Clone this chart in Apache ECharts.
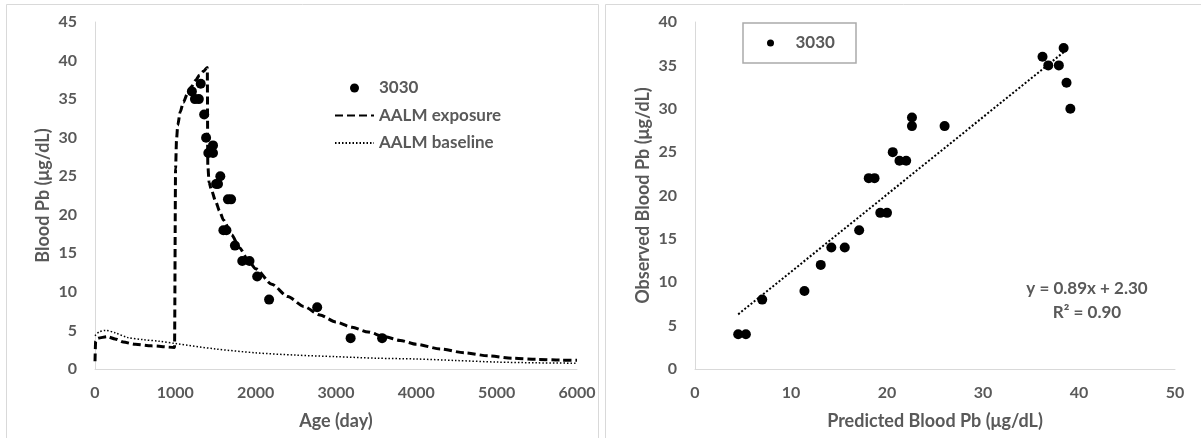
<!DOCTYPE html>
<html>
<head>
<meta charset="utf-8">
<script src="https://cdn.jsdelivr.net/npm/echarts@6/dist/echarts.min.js"></script>
<style>
html,body{margin:0;padding:0;background:#fff;}
#chart{width:1201px;height:438px;}
</style>
</head>
<body>
<div id="chart"></div>
<script>
// ---- Left chart: blood Pb vs age ----
const obsDays = [1206, 1244, 1292, 1316, 1359, 1383, 1411, 1469, 1469, 1507, 1531, 1560,
                 1598, 1636, 1655, 1694, 1742, 1833, 1923, 2019, 2167, 2766, 3182, 3574];
const obsValues = [36, 35, 35, 37, 33, 30, 28, 29, 28, 24, 24, 25,
                   18, 18, 22, 22, 16, 14, 14, 12, 9, 8, 4, 4];

const expoDays = [0, 8, 40, 150, 250, 350, 500, 700, 990, 1003, 1015, 1030, 1060, 1100, 1150, 1200,
                  1250, 1300, 1350, 1398, 1404, 1420, 1450, 1500, 1550, 1600, 1700, 1800, 1900,
                  2000, 2200, 2400, 2600, 2800, 3000, 3200, 3400, 3600, 3800, 4000, 4300, 4600,
                  4900, 5200, 5500, 5800, 6000];
const expoValues = [1.0, 3.6, 4.0, 4.2, 3.9, 3.5, 3.2, 3.0, 2.8, 26.0, 29.8, 31.6, 33.3, 34.6, 35.7, 36.6,
                    37.4, 38.1, 38.6, 39.1, 26.5, 24.2, 23.2, 21.8, 20.5, 19.3, 17.4, 15.7, 14.2,
                    13.0, 11.0, 9.4, 8.1, 7.0, 6.1, 5.4, 4.8, 4.2, 3.7, 3.2, 2.6, 2.1,
                    1.7, 1.4, 1.25, 1.15, 1.15];

const baseDays = [0, 50, 130, 250, 400, 600, 800, 1000, 1500, 2000, 2500, 3000, 3500, 4000, 4500, 5000, 5500, 6000];
const baseValues = [4.3, 4.8, 5.0, 4.7, 4.1, 3.8, 3.6, 3.3, 2.6, 2.1, 1.8, 1.6, 1.4, 1.3, 1.1, 0.9, 0.8, 0.75];

// ---- Right chart: observed vs predicted ----
const predicted = [4.5, 5.3, 7.0, 11.4, 13.1, 14.2, 15.6, 17.1, 19.3, 20.0, 18.1, 18.7,
                   20.6, 21.3, 22.0, 22.6, 22.6, 26.0, 36.2, 36.8, 37.9, 38.4, 38.7, 39.1];
const observed = [4, 4, 8, 9, 12, 14, 14, 16, 18, 18, 22, 22,
                  25, 24, 24, 29, 28, 28, 36, 35, 35, 37, 33, 30];
const trendX = [4.5, 38.6];
const trendY = [6.3, 36.7];

const seriesName = '3030';
const expoName = 'AALM exposure';
const baseName = 'AALM baseline';
const equationText = 'y = 0.89x + 2.30';
const r2Text = 'R² = 0.90';
const leftXName = 'Age (day)';
const leftYName = 'Blood Pb (μg/dL)';
const rightXName = 'Predicted Blood Pb (μg/dL)';
const rightYName = 'Observed Blood Pb (μg/dL)';

const zip = (a, b) => a.map((v, i) => [v, b[i]]);

const FONT = 'Lato';
const TXT = '#595959';
const AX = '#d9d9d9';
const labelStyle = {color: TXT, fontFamily: FONT, fontWeight: 'bold', fontSize: 16};
const nameStyle = {color: TXT, fontFamily: FONT, fontWeight: 'bold', fontSize: 18};
const legendText = {color: TXT, fontFamily: FONT, fontWeight: 'bold', fontSize: 17, lineHeight: 18};

function xAx(grid, min, max, interval, name) {
  return {
    type: 'value', gridIndex: grid, min: min, max: max, interval: interval,
    name: name, nameLocation: 'middle', nameGap: 43, nameTextStyle: nameStyle,
    axisLine: {show: true, lineStyle: {color: AX, width: 1}},
    axisTick: {show: false}, splitLine: {show: false},
    axisLabel: Object.assign({margin: 16, formatter: v => String(v)}, labelStyle)
  };
}
function yAx(grid, min, max, interval, name) {
  return {
    type: 'value', gridIndex: grid, min: min, max: max, interval: interval,
    name: name, nameLocation: 'middle', nameGap: 43, nameTextStyle: nameStyle,
    axisLine: {show: true, lineStyle: {color: AX, width: 1}},
    axisTick: {show: false}, splitLine: {show: false},
    axisLabel: Object.assign({margin: 18, formatter: v => String(v)}, labelStyle)
  };
}

const hideSym = {color: 'rgba(0,0,0,0)', borderWidth: 0, opacity: 0};

const chart = echarts.init(document.getElementById('chart'), null, {renderer: 'canvas'});
chart.setOption({
  animation: false,
  backgroundColor: '#fff',
  grid: [
    {left: 95, top: 22, width: 482, height: 347},
    {left: 695, top: 22, width: 480, height: 347}
  ],
  xAxis: [xAx(0, 0, 6000, 1000, leftXName), xAx(1, 0, 50, 10, rightXName)],
  yAxis: [yAx(0, 0, 45, 5, leftYName), yAx(1, 0, 40, 5, rightYName)],
  legend: [
    {
      orient: 'vertical', left: 334, top: 79, padding: 0,
      itemWidth: 39, itemHeight: 9, itemGap: 9.5,
      selectedMode: false, textStyle: legendText,
      data: [
        {name: seriesName},
        {name: expoName, itemStyle: hideSym},
        {name: baseName, itemStyle: hideSym}
      ]
    },
    {
      orient: 'vertical', left: 767, top: 34, padding: 0,
      itemWidth: 40, itemHeight: 7,
      selectedMode: false, textStyle: legendText,
      data: [{name: seriesName}]
    }
  ],
  series: [
    {
      name: seriesName, type: 'scatter', xAxisIndex: 0, yAxisIndex: 0,
      symbol: 'circle', symbolSize: 10, itemStyle: {color: '#000', opacity: 1},
      data: zip(obsDays, obsValues), z: 5
    },
    {
      name: expoName, type: 'line', xAxisIndex: 0, yAxisIndex: 0,
      showSymbol: false, symbol: 'none', smooth: 0.25, smoothMonotone: 'x',
      lineStyle: {color: '#000', width: 3, type: [8, 4]}, itemStyle: {color: '#000'},
      data: zip(expoDays, expoValues)
    },
    {
      name: baseName, type: 'line', xAxisIndex: 0, yAxisIndex: 0,
      showSymbol: false, symbol: 'none', smooth: 0.3,
      lineStyle: {color: '#000', width: 1.5, type: [1.5, 2]}, itemStyle: {color: '#000'},
      data: zip(baseDays, baseValues)
    },
    {
      name: seriesName, type: 'scatter', xAxisIndex: 1, yAxisIndex: 1,
      symbol: 'circle', symbolSize: 10, itemStyle: {color: '#000', opacity: 1},
      data: zip(predicted, observed), z: 5
    },
    {
      name: 'trend', type: 'line', xAxisIndex: 1, yAxisIndex: 1,
      showSymbol: false, symbol: 'none', silent: true,
      lineStyle: {color: '#000', width: 2, type: [2, 2]},
      data: zip(trendX, trendY)
    }
  ],
  graphic: [
    {type: 'rect', shape: {x: 6.5, y: 4.5, width: 592, height: 450}, style: {fill: 'none', stroke: '#d9d9d9', lineWidth: 1}, z: -1, silent: true},
    {type: 'rect', shape: {x: 605.5, y: 4.5, width: 610, height: 450}, style: {fill: 'none', stroke: '#d9d9d9', lineWidth: 1}, z: -1, silent: true},
    {type: 'rect', shape: {x: 743, y: 23, width: 113, height: 40}, style: {fill: 'none', stroke: '#aaaaaa', lineWidth: 1.5}, silent: true},
    {type: 'text', x: 1087, y: 289, style: {text: equationText, fill: TXT, font: 'bold 17px Lato', textAlign: 'center', textVerticalAlign: 'middle'}},
    {type: 'text', x: 1087, y: 313, style: {text: r2Text, fill: TXT, font: 'bold 17px Lato', textAlign: 'center', textVerticalAlign: 'middle'}}
  ]
});
</script>
</body>
</html>
